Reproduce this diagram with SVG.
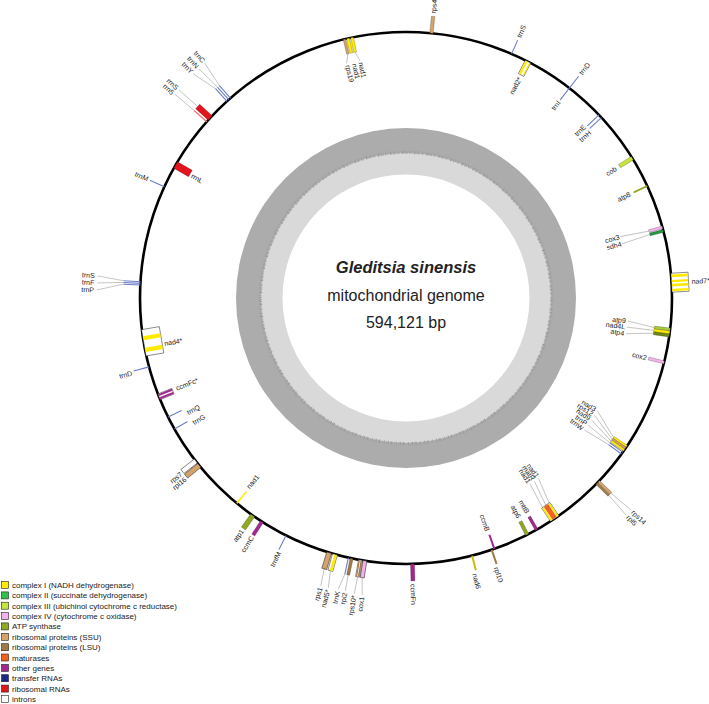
<svg xmlns="http://www.w3.org/2000/svg" width="709" height="704" viewBox="0 0 709 704">
<style>
text{font-family:"Liberation Sans",Arial,sans-serif;fill:#222}
.l{font-size:7px}
.e{text-anchor:end}
.g{stroke:#000;stroke-width:.35;stroke-opacity:.55}
.in{fill:#fff;stroke:#222;stroke-width:.5}
.cI{fill:#ffea00}.cII{fill:#2fc04f}.cIII{fill:#c6e43c}.cIV{fill:#f2b2ec}.atp{fill:#8ea921}
.ssu{fill:#d5a26b}.lsu{fill:#a27945}.mat{fill:#f0621e}.oth{fill:#a4268f}.trna{fill:#1b2a85}.rrna{fill:#e3141d}
.t{stroke:#6d7cc6;stroke-width:1.1}
.ld{stroke:#9a9a9a;stroke-width:.55;fill:none}
.lg{stroke:#222;stroke-width:.6}
.lt{font-size:8px}
</style>
<rect width="709" height="704" fill="#fff"/>
<g id="gc-ring">
<circle cx="406" cy="298" r="170" fill="#acacac"/>
<circle cx="406" cy="298" r="145" fill="#d9d9d9"/>
<circle cx="406" cy="298" r="145.5" fill="none" stroke="#9c9c9c" stroke-width="3" stroke-dasharray="0.5 1.3 1 0.7 0.4 1.9 0.8 1.1 0.3 2.4 1.2 0.6"/>
<circle cx="406" cy="298" r="147" fill="none" stroke="#a3a3a3" stroke-width="1.5" stroke-dasharray="0.4 2.1 0.7 1.5 0.3 3"/>
<circle cx="406" cy="298" r="123.5" fill="#fff"/>
</g>
<g id="title">
<text x="406" y="273" text-anchor="middle" font-size="16.5" font-weight="bold" font-style="italic" fill="#111">Gleditsia sinensis</text>
<text x="406" y="301" text-anchor="middle" font-size="16" fill="#111">mitochondrial genome</text>
<text x="406" y="328" text-anchor="middle" font-size="16" fill="#111">594,121 bp</text>
</g>
<circle id="genome" cx="406" cy="298" r="266" fill="none" stroke="#000" stroke-width="2.6"/>
<g id="connectors">
<path class="ld" transform="rotate(74.6 406 298)" d="M406 46L403.7 75"/>
<path class="ld" transform="rotate(75.4 406 298)" d="M406 46L408 75"/>
<path class="ld" transform="rotate(96.8 406 298)" d="M406 48L402.5 75"/>
<path class="ld" transform="rotate(97.45 406 298)" d="M406 48L406.2 75"/>
<path class="ld" transform="rotate(98.1 406 298)" d="M406 48L410.3 75"/>
<path class="ld" transform="rotate(123.9 406 298)" d="M406 48L392.8 76.4"/>
<path class="ld" transform="rotate(124.4 406 298)" d="M406 48L396.3 76.2"/>
<path class="ld" transform="rotate(124.9 406 298)" d="M406 48L399.8 76.1"/>
<path class="ld" transform="rotate(125.4 406 298)" d="M406 48L404.1 76"/>
<path class="ld" transform="rotate(125.9 406 298)" d="M406 48L408.3 76"/>
<path class="ld" transform="rotate(133.6 406 298)" d="M406 15L404.4 -11"/>
<path class="ld" transform="rotate(134.2 406 298)" d="M406 15L408.2 -11"/>
<path class="ld" transform="rotate(146 406 298)" d="M402 48L397 74.2M406 48L402.1 74M410 48L407.2 74"/>
<path class="ld" transform="rotate(188.9 406 298)" d="M406 15L403.4 -2"/>
<path class="ld" transform="rotate(189.85 406 298)" d="M406 15L406.3 -2"/>
<path class="ld" transform="rotate(191.8 406 298)" d="M406 15L405.5 -1"/>
<path class="ld" transform="rotate(192.5 406 298)" d="M406 15L409.1 -1"/>
<path class="ld" transform="rotate(195.5 406 298)" d="M406 15L403.4 -2"/>
<path class="ld" transform="rotate(196.8 406 298)" d="M406 15L404.4 -2"/>
<path class="ld" transform="rotate(273.5 406 298)" d="M406 15L409.2 -11"/>
<path class="ld" transform="rotate(273.15 406 298)" d="M406 15L404.1 -11"/>
<path class="ld" transform="rotate(272.8 406 298)" d="M406 15L399 -11"/>
<path class="ld" transform="rotate(312.6 406 298)" d="M406 15L405.5 -10"/>
<path class="ld" transform="rotate(311.5 406 298)" d="M406 15L405.5 -10"/>
<path class="ld" transform="rotate(318.7 406 298)" d="M406 15L409.8 -11"/>
<path class="ld" transform="rotate(318.2 406 298)" d="M406 15L404.4 -11"/>
<path class="ld" transform="rotate(317.7 406 298)" d="M406 15L399.5 -11"/>
<path class="ld" transform="rotate(346.6 406 298)" d="M406 47L402.6 56"/>
<path class="ld" transform="rotate(348.3 406 298)" d="M406 47L409 56"/>
</g>
<g id="n-rps4">
<rect class="ssu g" transform="rotate(5.5 406 298)" x="404.25" y="15" width="3.5" height="17"/>
<text class="l" transform="rotate(5.5 406 298) translate(406 12) rotate(-90)" dy=".35em">rps4</text>
</g>
<g id="n-trnS-top">
<line class="t" transform="rotate(23.4 406 298)" x1="406" y1="32" x2="406" y2="17"/>
<text class="l" transform="rotate(23.4 406 298) translate(406 14) rotate(-90)" dy=".35em">trnS</text>
</g>
<g id="n-nad2">
<g transform="rotate(27.3 406 298)"><rect class="in" x="403" y="32" width="6" height="15"/><rect class="cI" x="403.4" y="32.4" width="2.2" height="14.2"/><rect class="cI" x="407.5" y="32.4" width="1.2" height="14.2"/></g>
<text class="l e" transform="rotate(27.3 406 298) translate(406 50) rotate(-90)" dy=".35em">nad2*</text>
</g>
<g id="n-trnD-trnI">
<line class="t" transform="rotate(37.9 406 298)" x1="406" y1="17" x2="406" y2="47"/>
<text class="l" transform="rotate(37.9 406 298) translate(406 14) rotate(-90)" dy=".35em">trnD</text>
<text class="l e" transform="rotate(37.9 406 298) translate(406 49) rotate(-90)" dy=".35em">trnI</text>
</g>
<g id="n-trnE-trnH">
<line class="t" transform="rotate(46.5 406 298)" x1="406" y1="32" x2="406" y2="48"/>
<line class="t" transform="rotate(47.3 406 298)" x1="406" y1="32" x2="406" y2="48"/>
<text class="l e" transform="rotate(46.1 406 298) translate(406 50) rotate(-90)" dy=".35em">trnE</text>
<text class="l e" transform="rotate(47.9 406 298) translate(406 50) rotate(-90)" dy=".35em">trnH</text>
</g>
<g id="n-cob">
<rect class="cIII g" transform="rotate(58.3 406 298)" x="404" y="32" width="4" height="15"/>
<text class="l e" transform="rotate(58.3 406 298) translate(406 51) rotate(-90)" dy=".35em">cob</text>
</g>
<g id="n-atp8">
<rect class="atp" transform="rotate(65.1 406 298)" x="405.1" y="32" width="1.8" height="15"/>
<text class="l e" transform="rotate(65.1 406 298) translate(406 51) rotate(-90)" dy=".35em">atp8</text>
</g>
<g id="n-cox3-sdh4">
<rect class="cIV g" transform="rotate(74.6 406 298)" x="404.6" y="32" width="2.8" height="14"/>
<rect class="g" fill="#249a40" transform="rotate(75.4 406 298)" x="404.6" y="32" width="2.8" height="14"/>
<text class="l e" transform="rotate(74 406 298) translate(406 76) rotate(-90)" dy=".35em">cox3</text>
<text class="l e" transform="rotate(75.9 406 298) translate(406 76) rotate(-90)" dy=".35em">sdh4</text>
</g>
<g id="n-nad7">
<g transform="rotate(86.7 406 298)"><rect class="in" x="396.5" y="15" width="19" height="17"/><rect class="cI" x="397.8" y="15.3" width="2.7" height="16.4"/><rect class="cI" x="403.2" y="15.3" width="2.3" height="16.4"/><rect class="cI" x="407.2" y="15.3" width="2.6" height="16.4"/><rect class="cI" x="412.2" y="15.3" width="2.3" height="16.4"/></g>
<text class="l" transform="rotate(86.7 406 298) translate(406 12) rotate(-90)" dy=".35em">nad7*</text>
</g>
<g id="n-atp9-nad4L-atp4">
<rect class="g" fill="#a9cc3a" transform="rotate(96.8 406 298)" x="404.5" y="32" width="3" height="16"/>
<rect class="cI g" transform="rotate(97.45 406 298)" x="404.5" y="32" width="3" height="16"/>
<rect class="g" fill="#6e8816" transform="rotate(98.1 406 298)" x="404.5" y="32" width="3" height="16"/>
<text class="l e" transform="rotate(95.9 406 298) translate(406 77) rotate(-90)" dy=".35em">atp9</text>
<text class="l e" transform="rotate(97.5 406 298) translate(406 77) rotate(-90)" dy=".35em">nad4L</text>
<text class="l e" transform="rotate(99.2 406 298) translate(406 77) rotate(-90)" dy=".35em">atp4</text>
</g>
<g id="n-cox2">
<rect class="cIV g" transform="rotate(104 406 298)" x="404.5" y="32" width="3" height="16"/>
<text class="l e" transform="rotate(104 406 298) translate(406 50) rotate(-90)" dy=".35em">cox2</text>
</g>
<g id="n-nad3-trnW">
<rect class="cI g" transform="rotate(123.9 406 298)" x="404.85" y="32" width="2.3" height="16"/>
<rect class="ssu g" transform="rotate(124.4 406 298)" x="404.85" y="32" width="2.3" height="16"/>
<rect class="cI g" transform="rotate(124.9 406 298)" x="404.85" y="32" width="2.3" height="16"/>
<line class="t" transform="rotate(125.4 406 298)" x1="406" y1="32" x2="406" y2="48"/>
<line class="t" transform="rotate(125.9 406 298)" x1="406" y1="32" x2="406" y2="48"/>
<text class="l e" transform="rotate(120.5 406 298) translate(406 78) rotate(-90)" dy=".35em">nad3</text>
<text class="l e" transform="rotate(121.9 406 298) translate(406 78) rotate(-90)" dy=".35em">rps12</text>
<text class="l e" transform="rotate(123.3 406 298) translate(406 78) rotate(-90)" dy=".35em">nad9</text>
<text class="l e" transform="rotate(124.9 406 298) translate(406 78) rotate(-90)" dy=".35em">trnP</text>
<text class="l e" transform="rotate(126.5 406 298) translate(406 78) rotate(-90)" dy=".35em">trnW</text>
</g>
<g id="n-rps14-rpl5">
<rect class="ssu g" transform="rotate(133.6 406 298)" x="404.75" y="15" width="2.5" height="17"/>
<rect class="lsu g" transform="rotate(134.2 406 298)" x="404.75" y="15" width="2.5" height="17"/>
<text class="l" transform="rotate(133.3 406 298) translate(406 -13) rotate(-90)" dy=".35em">rps14</text>
<text class="l" transform="rotate(134.6 406 298) translate(406 -13) rotate(-90)" dy=".35em">rpl5</text>
</g>
<g id="n-nad1-matR">
<g transform="rotate(146 406 298)"><rect class="in" x="401" y="32" width="10" height="16"/><rect class="cI" x="401.3" y="32.3" width="1.8" height="15.4"/><rect class="mat" x="403.5" y="32.3" width="5" height="15.4"/><rect class="cI" x="408.9" y="32.3" width="1.8" height="15.4"/></g>
<text class="l e" transform="rotate(143.7 406 298) translate(406 76) rotate(-90)" dy=".35em">nad1</text>
<text class="l e" transform="rotate(145 406 298) translate(406 76) rotate(-90)" dy=".35em">matR</text>
<text class="l e" transform="rotate(146.3 406 298) translate(406 76) rotate(-90)" dy=".35em">nad1</text>
</g>
<g id="n-mttB">
<rect class="oth g" transform="rotate(150.6 406 298)" x="404.5" y="32" width="3" height="15"/>
<text class="l e" transform="rotate(150.5 406 298) translate(406 51) rotate(-90)" dy=".35em">mttB</text>
</g>
<g id="n-atp6">
<rect class="atp g" transform="rotate(152.9 406 298)" x="404.25" y="32" width="3.5" height="15"/>
<text class="l e" transform="rotate(152.8 406 298) translate(406 51) rotate(-90)" dy=".35em">atp6</text>
</g>
<g id="n-ccmB">
<rect class="oth" transform="rotate(160.6 406 298)" x="405" y="32" width="2" height="15"/>
<text class="l e" transform="rotate(160.7 406 298) translate(406 51) rotate(-90)" dy=".35em">ccmB</text>
</g>
<g id="n-rpl10">
<rect class="lsu" transform="rotate(161.2 406 298)" x="405" y="17" width="2" height="15"/>
<text class="l" transform="rotate(161.5 406 298) translate(406 14) rotate(-90)" dy=".35em">rpl10</text>
</g>
<g id="n-nad6">
<rect fill="#c9bd10" transform="rotate(165.6 406 298)" x="405" y="17" width="2" height="15"/>
<text class="l" transform="rotate(166 406 298) translate(406 14) rotate(-90)" dy=".35em">nad6</text>
</g>
<g id="n-ccmFn">
<rect class="oth g" transform="rotate(178.6 406 298)" x="404" y="15" width="4" height="17"/>
<text class="l" transform="rotate(178.6 406 298) translate(406 12) rotate(-90)" dy=".35em">ccmFn</text>
</g>
<g id="n-cox1-rps10">
<rect class="cIV in" transform="rotate(188.9 406 298)" x="404" y="15" width="4" height="17"/>
<g transform="rotate(189.85 406 298)"><rect class="in" x="404" y="15" width="4" height="17"/><rect class="lsu" x="404.3" y="15.3" width="1.5" height="16.4"/><rect class="lsu" x="406.5" y="15.3" width="1.2" height="16.4"/></g>
<text class="l e" transform="rotate(188.4 406 298) translate(406 -4) rotate(90)" dy=".35em">cox1</text>
<text class="l e" transform="rotate(189.9 406 298) translate(406 -4) rotate(90)" dy=".35em">rps10*</text>
</g>
<g id="n-rpl2-trnK">
<rect class="lsu g" transform="rotate(191.8 406 298)" x="404.5" y="15" width="3" height="17"/>
<line class="t" transform="rotate(192.5 406 298)" x1="406" y1="32" x2="406" y2="15"/>
<text class="l e" transform="rotate(191.7 406 298) translate(406 -3) rotate(90)" dy=".35em">rpl2</text>
<text class="l e" transform="rotate(193.1 406 298) translate(406 -3) rotate(90)" dy=".35em">trnK</text>
</g>
<g id="n-nad5-rps1">
<g transform="rotate(195.5 406 298)"><rect class="in" x="403.5" y="15" width="5" height="17"/><rect class="cI" x="403.8" y="15.3" width="2.8" height="16.4"/></g>
<rect class="ssu in" transform="rotate(196.8 406 298)" x="403.5" y="15" width="5" height="17"/>
<text class="l e" transform="rotate(195 406 298) translate(406 -4) rotate(90)" dy=".35em">nad5*</text>
<text class="l e" transform="rotate(196.5 406 298) translate(406 -4) rotate(90)" dy=".35em">rps1</text>
</g>
<g id="n-trnfM">
<line class="t" transform="rotate(206.8 406 298)" x1="406" y1="32" x2="406" y2="16"/>
<text class="l e" transform="rotate(206.5 406 298) translate(406 14) rotate(90)" dy=".35em">trnfM</text>
</g>
<g id="n-ccmC">
<rect class="oth g" transform="rotate(212.8 406 298)" x="404.25" y="16" width="3.5" height="16"/>
<text class="l e" transform="rotate(212.8 406 298) translate(406 14) rotate(90)" dy=".35em">ccmC</text>
</g>
<g id="n-atp1">
<rect class="atp g" transform="rotate(215.2 406 298)" x="403.5" y="16" width="5" height="16"/>
<text class="l e" transform="rotate(215.2 406 298) translate(406 14) rotate(90)" dy=".35em">atp1</text>
</g>
<g id="n-nad1-b">
<rect class="cI" transform="rotate(219.5 406 298)" x="405.25" y="32" width="1.5" height="15"/>
<text class="l" transform="rotate(219.8 406 298) translate(406 51) rotate(90)" dy=".35em">nad1</text>
</g>
<g id="n-rps7-rpl16">
<rect class="ssu in" transform="rotate(231 406 298)" x="403.5" y="15" width="5" height="17"/>
<rect class="in" transform="rotate(232.2 406 298)" x="403.5" y="15" width="5" height="17"/>
<text class="l e" transform="rotate(230.7 406 298) translate(406 13) rotate(90)" dy=".35em">rpl16</text>
<text class="l e" transform="rotate(232 406 298) translate(406 13) rotate(90)" dy=".35em">rps7</text>
</g>
<g id="n-trnG-trnQ">
<line class="t" transform="rotate(240.5 406 298)" x1="406" y1="32" x2="406" y2="47"/>
<line class="t" transform="rotate(243.4 406 298)" x1="406" y1="32" x2="406" y2="47"/>
<text class="l" transform="rotate(239.6 406 298) translate(406 51) rotate(90)" dy=".35em">trnG</text>
<text class="l" transform="rotate(242.3 406 298) translate(406 51) rotate(90)" dy=".35em">trnQ</text>
</g>
<g id="n-ccmFc">
<g transform="rotate(248.2 406 298)"><rect class="in" x="403" y="32" width="6" height="15"/><rect class="oth" x="403.3" y="32.3" width="2" height="14.4"/><rect class="oth" x="406.7" y="32.3" width="2" height="14.4"/></g>
<text class="l" transform="rotate(248.5 406 298) translate(406 51) rotate(90)" dy=".35em">ccmFc*</text>
</g>
<g id="n-trnD-left">
<line class="t" transform="rotate(255 406 298)" x1="406" y1="32" x2="406" y2="16"/>
<text class="l e" transform="rotate(254.7 406 298) translate(406 14) rotate(90)" dy=".35em">trnD</text>
</g>
<g id="n-nad4">
<g transform="rotate(260.3 406 298)"><rect class="in" x="392.65" y="32" width="26.7" height="18"/><rect class="cI" x="396.65" y="32.3" width="4.4" height="17.4"/><rect class="cI" x="408.65" y="32.3" width="4" height="17.4"/></g>
<text class="l" transform="rotate(259.3 406 298) translate(406 52) rotate(90)" dy=".35em">nad4*</text>
</g>
<g id="n-trnS-F-P">
<line class="t" transform="rotate(273.5 406 298)" x1="406" y1="32" x2="406" y2="15"/>
<line class="t" transform="rotate(273.15 406 298)" x1="406" y1="32" x2="406" y2="15"/>
<line class="t" transform="rotate(272.8 406 298)" x1="406" y1="32" x2="406" y2="15"/>
<text class="l e" transform="rotate(274.1 406 298) translate(406 -14) rotate(90)" dy=".35em">trnS</text>
<text class="l e" transform="rotate(272.8 406 298) translate(406 -14) rotate(90)" dy=".35em">trnF</text>
<text class="l e" transform="rotate(271.5 406 298) translate(406 -14) rotate(90)" dy=".35em">trnP</text>
</g>
<g id="n-trnM">
<line class="t" transform="rotate(294.7 406 298)" x1="406" y1="32" x2="406" y2="16"/>
<text class="l e" transform="rotate(294.7 406 298) translate(406 14) rotate(90)" dy=".35em">trnM</text>
</g>
<g id="n-rrnL">
<rect class="rrna g" transform="rotate(300 406 298)" x="402.25" y="32" width="7.5" height="17"/>
<text class="l" transform="rotate(299.8 406 298) translate(406 51) rotate(90)" dy=".35em">rrnL</text>
</g>
<g id="n-rrnS-rrn5">
<rect class="rrna g" transform="rotate(312.6 406 298)" x="403" y="15" width="6" height="17"/>
<rect fill="#f07a80" transform="rotate(311.5 406 298)" x="405.25" y="15" width="1.5" height="17"/>
<text class="l e" transform="rotate(312.5 406 298) translate(406 -12) rotate(90)" dy=".35em">rrnS</text>
<text class="l e" transform="rotate(311.3 406 298) translate(406 -12) rotate(90)" dy=".35em">rrn5</text>
</g>
<g id="n-trnC-N-Y">
<line class="t" transform="rotate(318.7 406 298)" x1="406" y1="32" x2="406" y2="15"/>
<line class="t" transform="rotate(318.2 406 298)" x1="406" y1="32" x2="406" y2="15"/>
<line class="t" transform="rotate(317.7 406 298)" x1="406" y1="32" x2="406" y2="15"/>
<text class="l e" transform="rotate(319.4 406 298) translate(406 -13) rotate(90)" dy=".35em">trnC</text>
<text class="l e" transform="rotate(317.9 406 298) translate(406 -13) rotate(90)" dy=".35em">trnN</text>
<text class="l e" transform="rotate(316.5 406 298) translate(406 -13) rotate(90)" dy=".35em">trnY</text>
</g>
<g id="n-rps19-nad1">
<rect class="ssu g" transform="rotate(346.6 406 298)" x="404.75" y="32" width="2.5" height="15"/>
<rect class="cI g" transform="rotate(347.4 406 298)" x="404.5" y="32" width="3" height="15"/>
<rect class="cI g" transform="rotate(348.3 406 298)" x="404.5" y="32" width="3" height="15"/>
<text class="l" transform="rotate(345.9 406 298) translate(406 58) rotate(90)" dy=".35em">rps19</text>
<text class="l" transform="rotate(347.6 406 298) translate(406 58) rotate(90)" dy=".35em">nad1</text>
<text class="l" transform="rotate(349.2 406 298) translate(406 58) rotate(90)" dy=".35em">nad1</text>
</g>
<g id="legend">
<rect class="lg" fill="#ffea00" x="1.5" y="581.5" width="7" height="7"/><text class="lt" x="12" y="588">complex I (NADH dehydrogenase)</text>
<rect class="lg" fill="#2fc04f" x="1.5" y="591.9" width="7" height="7"/><text class="lt" x="12" y="598.4">complex II (succinate dehydrogenase)</text>
<rect class="lg" fill="#c6e43c" x="1.5" y="602.2" width="7" height="7"/><text class="lt" x="12" y="608.7">complex III (ubichinol cytochrome c reductase)</text>
<rect class="lg" fill="#f2b2ec" x="1.5" y="612.6" width="7" height="7"/><text class="lt" x="12" y="619.1">complex IV (cytochrome c oxidase)</text>
<rect class="lg" fill="#8ea921" x="1.5" y="622.9" width="7" height="7"/><text class="lt" x="12" y="629.4">ATP synthase</text>
<rect class="lg" fill="#d5a26b" x="1.5" y="633.3" width="7" height="7"/><text class="lt" x="12" y="639.8">ribosomal proteins (SSU)</text>
<rect class="lg" fill="#a27945" x="1.5" y="643.7" width="7" height="7"/><text class="lt" x="12" y="650.2">ribosomal proteins (LSU)</text>
<rect class="lg" fill="#f0621e" x="1.5" y="654" width="7" height="7"/><text class="lt" x="12" y="660.5">maturases</text>
<rect class="lg" fill="#a4268f" x="1.5" y="664.4" width="7" height="7"/><text class="lt" x="12" y="670.9">other genes</text>
<rect class="lg" fill="#1b2a85" x="1.5" y="674.7" width="7" height="7"/><text class="lt" x="12" y="681.2">transfer RNAs</text>
<rect class="lg" fill="#e3141d" x="1.5" y="685.1" width="7" height="7"/><text class="lt" x="12" y="691.6">ribosomal RNAs</text>
<rect class="lg" fill="#fff" x="1.5" y="695.5" width="7" height="7"/><text class="lt" x="12" y="702">introns</text>
</g>
</svg>
